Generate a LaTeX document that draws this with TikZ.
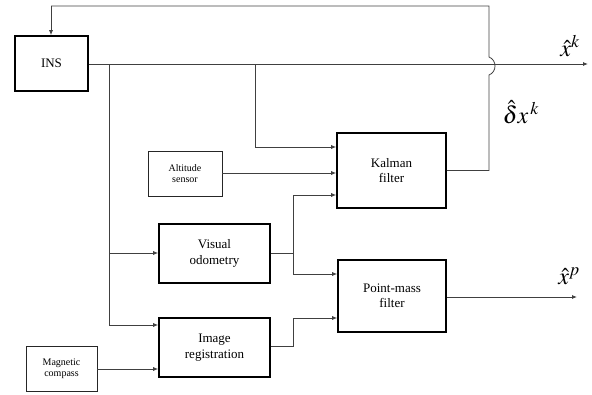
\documentclass[tikz,border=0pt]{standalone}
\usepackage{mathptmx}
\usepackage{fontspec}
\setmainfont{Liberation Serif}
\usetikzlibrary{arrows.meta}
\tikzset{
  bigbox/.style={draw=black, line width=1.6pt, align=center, inner sep=0pt,
    font=\fontsize{13}{15.5}\selectfont},
  smallbox/.style={draw=black!85, line width=0.9pt, align=center, inner sep=0pt,
    font=\fontsize{10}{11.5}\selectfont},
  conn/.style={draw=black!75, line width=0.8pt},
  arr/.style={conn, -{Latex[length=5pt,width=4pt]}},
  lbl/.style={font=\fontsize{24}{26}\selectfont, inner sep=0pt}
}
\begin{document}
\begin{tikzpicture}[x=1pt,y=-1pt]
\useasboundingbox (0,0) rectangle (592,394);
% boxes
\node[bigbox, minimum width=73pt, minimum height=55pt] (ins) at (51.5,63.5) {INS};
\node[bigbox, minimum width=109pt, minimum height=75pt] (kal) at (391.5,170.5) {Kalman\\filter};
\node[smallbox, minimum width=74pt, minimum height=45pt] (alt) at (185,173.5) {Altitude\\sensor};
\node[bigbox, minimum width=111pt, minimum height=59pt] (vo) at (214.5,253.5) {Visual\\odometry};
\node[bigbox, minimum width=111pt, minimum height=59pt] (ir) at (214.5,347.5) {Image\\registration};
\node[bigbox, minimum width=108pt, minimum height=72pt] (pm) at (392,296) {Point-mass\\filter};
\node[smallbox, minimum width=71pt, minimum height=45pt] (mc) at (61.5,368.5) {Magnetic\\compass};
% labels
\node[lbl] (lxk) at (570,46) {$\hat{x}^{k}$};
\node[lbl] (ldx) at (521,112) {$\hat{\delta}x^{\,k}$};
\node[lbl] (lxp) at (569,276) {$\hat{x}^{p}$};
% coordinates
\coordinate (out1) at (588,64);
\coordinate (j1) at (109,64);
\coordinate (j2) at (255,64);
\coordinate (bTop) at (489,57);
\coordinate (bBot) at (489,75);
\coordinate (fbR) at (489,6);
\coordinate (fbL) at (51,6);
\coordinate (vj) at (293,253);
\coordinate (ij) at (293,346);
\coordinate (out2) at (577,297);
% main output line
\draw[arr] (ins.east |- j1) -- (out1);
% feedback from Kalman filter to INS, jumping over main line
\draw[conn] (kal.east) -- (kal.east -| bBot) -- (bBot)
  .. controls (497,72) and (497,60) .. (bTop) -- (fbR) -- (fbL);
\draw[arr] (fbL) -- (fbL |- ins.north);
% INS branches
\draw[conn] (j1) -- (109,325);
\draw[arr] (109,325) -- (ir.west |- 0,325);
\draw[arr] (109,253) -- (vo.west |- 0,253);
\draw[conn] (j2) -- (255,147);
\draw[arr] (255,147) -- (kal.west |- 0,147);
% altitude
\draw[arr] (alt.east |- 0,173) -- (kal.west |- 0,173);
% visual odometry
\draw[conn] (vo.east |- vj) -- (vj);
\draw[conn] (293,195) -- (293,274);
\draw[arr] (293,195) -- (kal.west |- 0,195);
\draw[arr] (293,274) -- (pm.west |- 0,274);
% image registration
\draw[conn] (ir.east |- ij) -- (ij) -- (293,318);
\draw[arr] (293,318) -- (pm.west |- 0,318);
% magnetic compass
\draw[arr] (mc.east |- 0,369) -- (ir.west |- 0,369);
% point-mass output
\draw[arr] (pm.east |- out2) -- (out2);
\end{tikzpicture}
\end{document}
